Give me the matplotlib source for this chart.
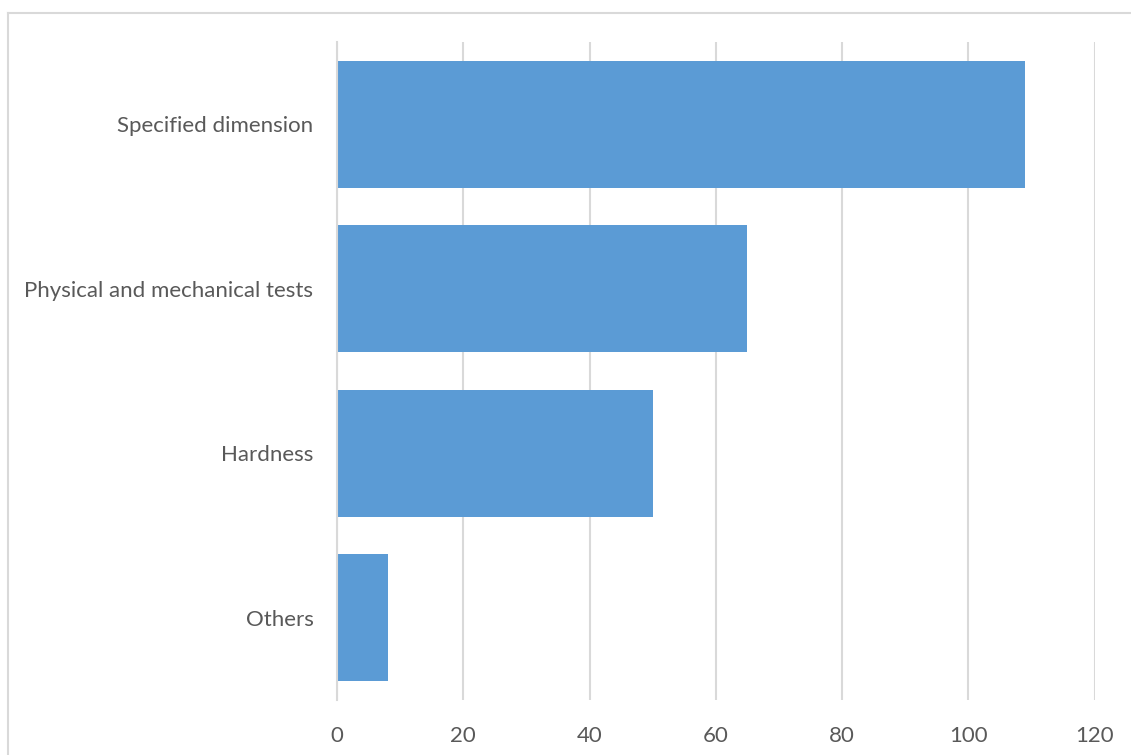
import matplotlib
matplotlib.use('Agg')
import matplotlib.pyplot as plt
from matplotlib.lines import Line2D

categories = ['Specified dimension', 'Physical and mechanical tests', 'Hardness', 'Others']
counts = [109, 65, 50, 8]
xticks = [0, 20, 40, 60, 80, 100, 120]

W, H, DPI = 1131, 755, 100
plt.rcParams['font.family'] = ['Lato', 'DejaVu Sans']

fig = plt.figure(figsize=(W / DPI, H / DPI), dpi=DPI)
fig.patch.set_facecolor('white')

# outer chart frame: only top and left edges are inside the image
fx, fy = 8 / W, 1 - 13 / H
fig.lines.append(Line2D([fx, 1.0], [fy, fy], transform=fig.transFigure, color='#D9D9D9', linewidth=1.5))
fig.lines.append(Line2D([fx, fx], [0.0, fy], transform=fig.transFigure, color='#D9D9D9', linewidth=1.5))

ax = fig.add_axes([337 / W, 1 - 700 / H, (1094.6 - 337) / W, (700 - 42) / H])
ypos = list(range(len(categories)))
ax.barh(ypos, counts, height=1 / 1.3, color='#5B9BD5', zorder=2)
ax.set_ylim(len(categories) - 0.5, -0.5)
ax.set_xlim(0, 120)
ax.set_xticks(xticks)
ax.set_yticks(ypos)
ax.set_yticklabels(categories)

ax.xaxis.grid(True, color='#D9D9D9', linewidth=1.5, zorder=0)
ax.set_axisbelow(True)
for s in ['top', 'right', 'bottom']:
    ax.spines[s].set_visible(False)
ax.spines['left'].set_color('#D9D9D9')
ax.spines['left'].set_linewidth(1.5)

ax.tick_params(axis='x', length=0, pad=19, labelsize=16, labelcolor='#595959')
ax.tick_params(axis='y', length=0, pad=17, labelsize=16, labelcolor='#595959')

fig.savefig('out.png', dpi=DPI)
